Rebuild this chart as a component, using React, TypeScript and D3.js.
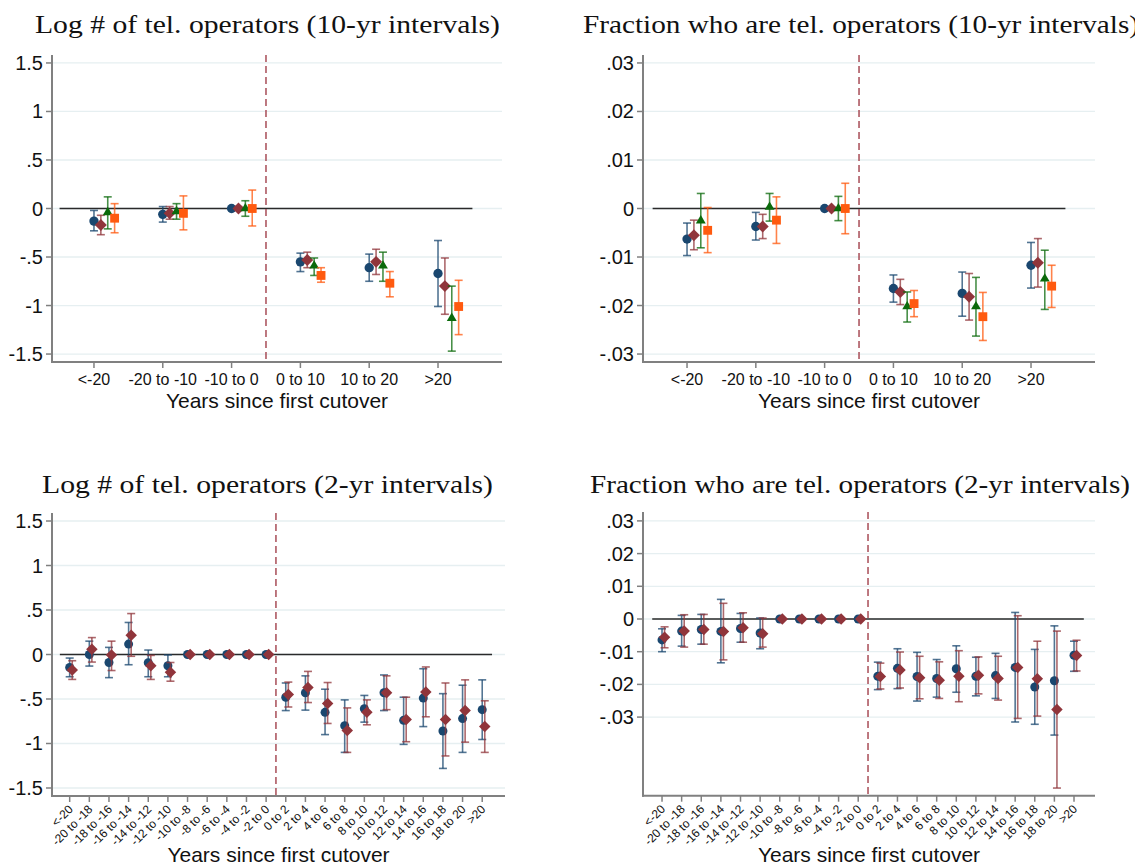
import React from "react";
import * as d3 from "d3";

// ---------- categories ----------
const cats10 = ["<-20", "-20 to -10", "-10 to 0", "0 to 10", "10 to 20", ">20"];
const cats2 = [
  "<-20", "-20 to -18", "-18 to -16", "-16 to -14", "-14 to -12", "-12 to -10",
  "-10 to -8", "-8 to -6", "-6 to -4", "-4 to -2", "-2 to 0",
  "0 to 2", "2 to 4", "4 to 6", "6 to 8", "8 to 10", "10 to 12",
  "12 to 14", "14 to 16", "16 to 18", "18 to 20", ">20",
];

// ---------- tick values ----------
const logTicks = [-1.5, -1, -0.5, 0, 0.5, 1, 1.5];
const fracTicks = [-0.03, -0.02, -0.01, 0, 0.01, 0.02, 0.03];

// ---------- Panel 1: Log # (10-yr) ----------
const log10Blue = [-0.13, -0.06, 0, -0.55, -0.61, -0.67];
const log10BlueLo = [-0.23, -0.14, 0, -0.65, -0.75, -1.01];
const log10BlueHi = [-0.02, 0.02, 0, -0.46, -0.47, -0.33];
const log10Maroon = [-0.17, -0.05, 0, -0.53, -0.55, -0.8];
const log10MaroonLo = [-0.27, -0.11, -0.02, -0.61, -0.68, -1.09];
const log10MaroonHi = [-0.07, 0.02, 0.02, -0.45, -0.42, -0.51];
const log10Green = [-0.04, -0.03, 0, -0.59, -0.59, -1.13];
const log10GreenLo = [-0.21, -0.11, -0.08, -0.69, -0.75, -1.47];
const log10GreenHi = [0.12, 0.05, 0.08, -0.51, -0.45, -0.8];
const log10Orange = [-0.1, -0.05, 0, -0.69, -0.77, -1.01];
const log10OrangeLo = [-0.25, -0.22, -0.18, -0.76, -0.91, -1.3];
const log10OrangeHi = [0.05, 0.13, 0.19, -0.61, -0.65, -0.74];

// ---------- Panel 2: Fraction (10-yr) ----------
const frac10Blue = [-0.0063, -0.0037, 0, -0.0165, -0.0175, -0.0117];
const frac10BlueLo = [-0.0097, -0.0065, 0, -0.0193, -0.0222, -0.0164];
const frac10BlueHi = [-0.003, -0.0008, 0, -0.0137, -0.0131, -0.007];
const frac10Maroon = [-0.0055, -0.0037, 0, -0.0172, -0.0182, -0.0112];
const frac10MaroonLo = [-0.0085, -0.0062, -0.0003, -0.0198, -0.023, -0.0162];
const frac10MaroonHi = [-0.0024, -0.0012, 0.0003, -0.0146, -0.0134, -0.0062];
const frac10Green = [-0.0025, 0.0003, 0, -0.0202, -0.0202, -0.0145];
const frac10GreenLo = [-0.0081, -0.0026, -0.0025, -0.0234, -0.0263, -0.0208];
const frac10GreenHi = [0.0031, 0.0031, 0.0025, -0.0172, -0.0142, -0.0086];
const frac10Orange = [-0.0045, -0.0024, 0, -0.0196, -0.0223, -0.016];
const frac10OrangeLo = [-0.0091, -0.0072, -0.0052, -0.0223, -0.0272, -0.0204];
const frac10OrangeHi = [0.0002, 0.0024, 0.0052, -0.0169, -0.0173, -0.0117];

// ---------- Panel 3: Log # (2-yr) ----------
const log2Blue = [-0.146, 0.0, -0.09, 0.117, -0.093, -0.127, 0, 0, 0, 0, 0, -0.48, -0.43, -0.65, -0.8, -0.61, -0.43, -0.74, -0.49, -0.86, -0.72, -0.62];
const log2BlueLo = [-0.25, -0.13, -0.26, -0.115, -0.25, -0.25, 0, 0, 0, 0, 0, -0.63, -0.625, -0.9, -1.1, -0.76, -0.63, -1.01, -0.81, -1.28, -1.1, -0.955];
const log2BlueHi = [-0.04, 0.15, 0.08, 0.36, 0.05, -0.005, 0, 0, 0, 0, 0, -0.32, -0.24, -0.39, -0.51, -0.46, -0.23, -0.48, -0.16, -0.44, -0.345, -0.285];
const log2Maroon = [-0.175, 0.06, -0.005, 0.215, -0.127, -0.2, 0, 0, 0, 0, 0, -0.45, -0.37, -0.55, -0.855, -0.65, -0.43, -0.73, -0.42, -0.73, -0.63, -0.81];
const log2MaroonLo = [-0.28, -0.085, -0.18, -0.02, -0.28, -0.3, 0, 0, 0, 0, 0, -0.59, -0.54, -0.775, -1.1, -0.79, -0.62, -0.98, -0.7, -1.14, -0.985, -1.1];
const log2MaroonHi = [-0.07, 0.19, 0.15, 0.46, -0.01, -0.09, 0, 0, 0, 0, 0, -0.31, -0.19, -0.315, -0.6, -0.51, -0.24, -0.48, -0.14, -0.32, -0.285, -0.52];

// ---------- Panel 4: Fraction (2-yr) ----------
const frac2Blue = [-0.0064, -0.0037, -0.0032, -0.0038, -0.0029, -0.0043, 0, 0, 0, 0, 0, -0.0175, -0.0151, -0.0176, -0.0182, -0.0152, -0.0175, -0.0173, -0.0148, -0.0208, -0.0189, -0.0111];
const frac2BlueLo = [-0.01, -0.0083, -0.0077, -0.0134, -0.0071, -0.0091, 0, 0, 0, 0, 0, -0.0216, -0.0213, -0.0251, -0.0239, -0.0224, -0.0235, -0.0243, -0.0315, -0.0322, -0.0355, -0.016];
const frac2BlueHi = [-0.003, 0.0011, 0.0014, 0.006, 0.0017, 0.0003, 0, 0, 0, 0, 0, -0.0132, -0.0091, -0.0102, -0.0124, -0.0082, -0.0117, -0.0105, 0.002, -0.0093, -0.0021, -0.0068];
const frac2Maroon = [-0.0056, -0.0037, -0.0032, -0.0038, -0.0027, -0.0045, 0, 0, 0, 0, 0, -0.0176, -0.0156, -0.018, -0.0187, -0.0175, -0.0172, -0.0182, -0.0148, -0.0183, -0.0277, -0.0112];
const frac2MaroonLo = [-0.0088, -0.0086, -0.0077, -0.0125, -0.0071, -0.0086, 0, 0, 0, 0, 0, -0.0214, -0.0211, -0.0244, -0.0243, -0.0253, -0.0229, -0.0248, -0.0304, -0.0297, -0.0517, -0.0159];
const frac2MaroonHi = [-0.0024, 0.0013, 0.0014, 0.0048, 0.0019, 0.0003, 0, 0, 0, 0, 0, -0.0135, -0.0101, -0.0114, -0.0131, -0.0097, -0.0116, -0.0114, 0.001, -0.0068, -0.0037, -0.0065];

// ---------- colors ----------
const NAVY = "#1a476f";
const MAROON = "#90353b";
const GREEN = "#0b6a0b";
const ORANGE = "#ff5a0f";

const SANS = "'Liberation Sans', Arial, sans-serif";
const SERIF = "'Liberation Serif', 'Times New Roman', serif";

const fmt = (v: number) => {
  if (v === 0) return "0";
  let s = String(+v.toFixed(3));
  s = s.replace(/^(-?)0\./, "$1.");
  return s;
};

type Series = { est: number[]; lo: number[]; hi: number[]; color: string; shape: string; off: number };

type PanelCfg = {
  x0: number; x1: number; yTop: number; yBot: number;
  xDomain: [number, number]; yDomain: [number, number];
  yTicks: number[]; cats: string[]; series: Series[];
  rotate: boolean; title: string; titleX: number; titleY: number; titleLen: number;
  xTitleY: number; size: number;
};

function marker(shape: string, x: number, y: number, s: number, color: string, key: string) {
  if (shape === "circle") return <circle key={key} cx={x} cy={y} r={s * 0.9} fill={color} />;
  if (shape === "diamond") {
    const d = s * 1.15;
    return <path key={key} d={`M${x},${y - d}L${x + d},${y}L${x},${y + d}L${x - d},${y}Z`} fill={color} />;
  }
  if (shape === "triangle") {
    const h = s * 1.6;
    const w = s * 0.95;
    return <path key={key} d={`M${x},${y - (2 * h) / 3}L${x + w},${y + h / 3}L${x - w},${y + h / 3}Z`} fill={color} />;
  }
  const a = s * 0.85;
  return <rect key={key} x={x - a} y={y - a} width={2 * a} height={2 * a} fill={color} />;
}

function Panel({ cfg }: { cfg: PanelCfg }) {
  const xs = d3.scaleLinear().domain(cfg.xDomain).range([cfg.x0, cfg.x1]);
  const ys = d3.scaleLinear().domain(cfg.yDomain).range([cfg.yBot, cfg.yTop]);
  const n = cfg.cats.length;
  const half = n / 2;
  const dashX = xs(half + 0.5);
  const cap = 4;
  return (
    <g>
      {/* title */}
      <text x={cfg.titleX} y={cfg.titleY} fontFamily={SERIF} fontSize={26} fill="#111"
        textLength={cfg.titleLen} lengthAdjust="spacingAndGlyphs">{cfg.title}</text>
      {/* gridlines */}
      {cfg.yTicks.map((t) => (
        <line key={"g" + t} x1={cfg.x0} x2={cfg.x1} y1={ys(t)} y2={ys(t)} stroke="#e6eff1" strokeWidth={1.3} />
      ))}
      {/* zero line */}
      <line x1={xs(0.5)} x2={xs(n + 0.5)} y1={ys(0)} y2={ys(0)} stroke="#2a2a2a" strokeWidth={1.6} />
      {/* dashed vertical line */}
      <line x1={dashX} x2={dashX} y1={cfg.yTop} y2={cfg.yBot} stroke="#a84d57" strokeWidth={1.5} strokeDasharray="7,4" />
      {/* error bars and markers */}
      {cfg.series.map((s, si) => (
        <g key={"s" + si}>
          {s.est.map((_, i) => {
            const x = xs(i + 1 + s.off);
            if (s.hi[i] === s.lo[i]) return null;
            const yl = ys(s.lo[i]);
            const yh = ys(s.hi[i]);
            return (
              <g key={"e" + i} stroke={s.color} strokeOpacity={0.75} strokeWidth={1.6}>
                <line x1={x} x2={x} y1={yl} y2={yh} />
                <line x1={x - cap} x2={x + cap} y1={yl} y2={yl} />
                <line x1={x - cap} x2={x + cap} y1={yh} y2={yh} />
              </g>
            );
          })}
          {s.est.map((v, i) => marker(s.shape, xs(i + 1 + s.off), ys(v), cfg.size, s.color, "m" + i))}
        </g>
      ))}
      {/* axes */}
      <line x1={cfg.x0} x2={cfg.x0} y1={cfg.yTop} y2={cfg.yBot + 1} stroke="#808080" strokeWidth={2} />
      <line x1={cfg.x0 - 1} x2={cfg.x1} y1={cfg.yBot} y2={cfg.yBot} stroke="#808080" strokeWidth={2} />
      {cfg.yTicks.map((t) => (
        <g key={"yt" + t}>
          <line x1={cfg.x0 - 6} x2={cfg.x0} y1={ys(t)} y2={ys(t)} stroke="#808080" strokeWidth={1.5} />
          <text x={cfg.x0 - 9} y={ys(t)} dy="0.35em" textAnchor="end" fontFamily={SANS} fontSize={20} fill="#111">
            {fmt(t)}
          </text>
        </g>
      ))}
      {cfg.cats.map((c, i) => {
        const x = xs(i + 1);
        return (
          <g key={"xt" + i}>
            <line x1={x} x2={x} y1={cfg.yBot} y2={cfg.yBot + 6} stroke="#808080" strokeWidth={1.5} />
            {cfg.rotate ? (
              <text transform={`translate(${x + 4},${cfg.yBot + 14}) rotate(-45)`} textAnchor="end"
                fontFamily={SANS} fontSize={12} fill="#111">{c}</text>
            ) : (
              <text x={x} y={cfg.yBot + 23} textAnchor="middle" fontFamily={SANS} fontSize={16} fill="#111">{c}</text>
            )}
          </g>
        );
      })}
      <text x={(cfg.x0 + cfg.x1) / 2} y={cfg.xTitleY} textAnchor="middle" fontFamily={SANS} fontSize={21} fill="#111">
        Years since first cutover
      </text>
    </g>
  );
}

const panels: PanelCfg[] = [
  {
    x0: 52, x1: 502, yTop: 55, yBot: 362, xDomain: [0.39, 6.93], yDomain: [-1.582, 1.582],
    yTicks: logTicks, cats: cats10, rotate: false,
    title: "Log # of tel. operators (10-yr intervals)", titleX: 35, titleY: 33, titleLen: 465, xTitleY: 408, size: 5.2,
    series: [
      { est: log10Blue, lo: log10BlueLo, hi: log10BlueHi, color: NAVY, shape: "circle", off: 0 },
      { est: log10Maroon, lo: log10MaroonLo, hi: log10MaroonHi, color: MAROON, shape: "diamond", off: 0.1 },
      { est: log10Green, lo: log10GreenLo, hi: log10GreenHi, color: GREEN, shape: "triangle", off: 0.2 },
      { est: log10Orange, lo: log10OrangeLo, hi: log10OrangeHi, color: ORANGE, shape: "square", off: 0.3 },
    ],
  },
  {
    x0: 643, x1: 1095, yTop: 55, yBot: 362, xDomain: [0.36, 6.93], yDomain: [-0.03164, 0.03164],
    yTicks: fracTicks, cats: cats10, rotate: false,
    title: "Fraction who are tel. operators (10-yr intervals)", titleX: 583, titleY: 33, titleLen: 556, xTitleY: 408, size: 5.2,
    series: [
      { est: frac10Blue, lo: frac10BlueLo, hi: frac10BlueHi, color: NAVY, shape: "circle", off: 0 },
      { est: frac10Maroon, lo: frac10MaroonLo, hi: frac10MaroonHi, color: MAROON, shape: "diamond", off: 0.1 },
      { est: frac10Green, lo: frac10GreenLo, hi: frac10GreenHi, color: GREEN, shape: "triangle", off: 0.2 },
      { est: frac10Orange, lo: frac10OrangeLo, hi: frac10OrangeHi, color: ORANGE, shape: "square", off: 0.3 },
    ],
  },
  {
    x0: 52, x1: 505, yTop: 513, yBot: 796, xDomain: [0.1, 23.16], yDomain: [-1.59, 1.59],
    yTicks: logTicks, cats: cats2, rotate: true,
    title: "Log # of tel. operators (2-yr intervals)", titleX: 42, titleY: 493, titleLen: 451, xTitleY: 862, size: 5,
    series: [
      { est: log2Blue, lo: log2BlueLo, hi: log2BlueHi, color: NAVY, shape: "circle", off: 0 },
      { est: log2Maroon, lo: log2MaroonLo, hi: log2MaroonHi, color: MAROON, shape: "diamond", off: 0.13 },
    ],
  },
  {
    x0: 643, x1: 1095, yTop: 512, yBot: 795.7, xDomain: [0.03, 23.07], yDomain: [-0.05404, 0.03272],
    yTicks: fracTicks, cats: cats2, rotate: true,
    title: "Fraction who are tel. operators (2-yr intervals)", titleX: 590, titleY: 493, titleLen: 540, xTitleY: 862, size: 5,
    series: [
      { est: frac2Blue, lo: frac2BlueLo, hi: frac2BlueHi, color: NAVY, shape: "circle", off: 0 },
      { est: frac2Maroon, lo: frac2MaroonLo, hi: frac2MaroonHi, color: MAROON, shape: "diamond", off: 0.13 },
    ],
  },
];

export default function App() {
  return (
    <svg width={1135} height={865} viewBox="0 0 1135 865"
      style={{ position: "absolute", left: 0, top: 0, background: "#fff", display: "block" }}>
      <rect x={0} y={0} width={1135} height={865} fill="#fff" />
      {panels.map((p, i) => (
        <Panel key={i} cfg={p} />
      ))}
    </svg>
  );
}
